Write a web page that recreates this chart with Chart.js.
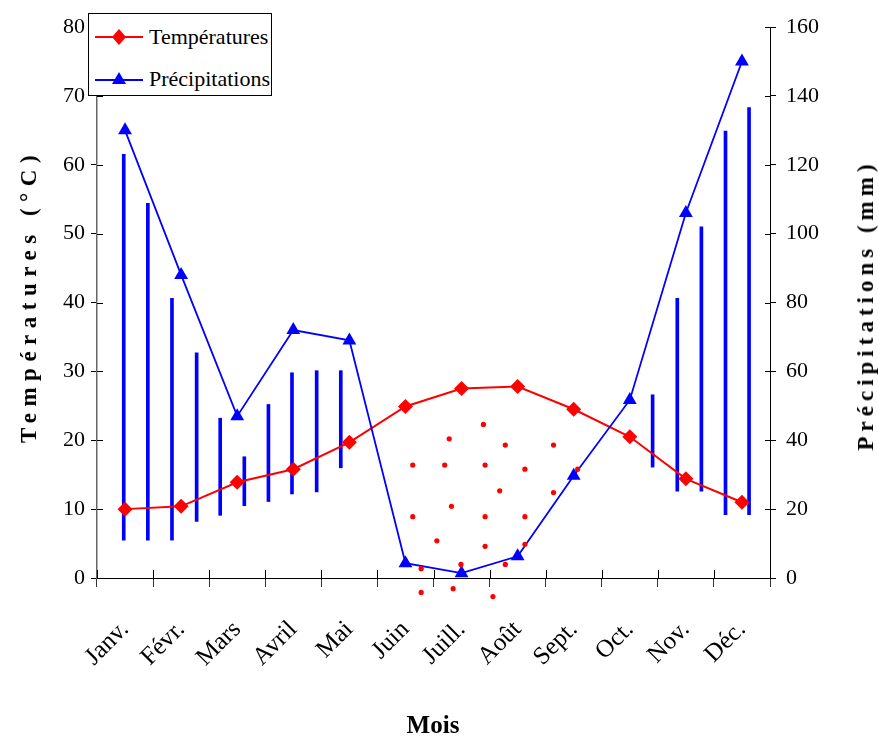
<!DOCTYPE html>
<html>
<head>
<meta charset="utf-8">
<script src="https://cdn.jsdelivr.net/npm/chart.js@4.4.0/dist/chart.umd.min.js"></script>
<style>
  body { margin: 0; background: #fff; }
  #wrap { position: relative; width: 878px; height: 740px; font-family: "Liberation Serif", "Times New Roman", serif; }
  #chart { position: absolute; left: 0; top: 0; }
  .title { position: absolute; font-weight: bold; white-space: nowrap; color: #000; }
  .vtitle { transform: translate(-50%, -50%) rotate(-90deg); font-size: 23px; }
  #legend { position: absolute; left: 88px; top: 13px; width: 182px; height: 81px; background: #fff; border: 1px solid #000; }
  .lrow { position: absolute; left: 6px; height: 24px; display: flex; align-items: center; font-size: 22px; color: #000; }
  .lrow svg { margin-right: 6px; }
</style>
</head>
<body>
<div id="wrap">
  <canvas id="chart" width="878" height="740"></canvas>
  <div id="legend">
    <div class="lrow" style="top:11px">
      <svg width="48" height="18"><line x1="0" y1="9" x2="48" y2="9" stroke="#ff0000" stroke-width="2"/><polygon points="24,1 31,9 24,17 17,9" fill="#ff0000"/></svg>
      <span>Températures</span>
    </div>
    <div class="lrow" style="top:53px">
      <svg width="48" height="18"><line x1="0" y1="10" x2="48" y2="10" stroke="#0000ff" stroke-width="2"/><polygon points="24,2 31,14 17,14" fill="#0000ff"/></svg>
      <span>Précipitations</span>
    </div>
  </div>
  <div class="title vtitle" style="left:29px; top:296px; letter-spacing:6.5px;">Températures (°C)</div>
  <div class="title vtitle" style="left:866px; top:305px; letter-spacing:5px;">Précipitations (mm)</div>
  <div class="title" style="left:433px; top:712px; transform: translateX(-50%); font-size:25px; line-height:1;">Mois</div>
</div>
<script>
// Données du diagramme ombrothermique
const mois = ['Janv.', 'Févr.', 'Mars', 'Avril', 'Mai', 'Juin', 'Juill.', 'Août', 'Sept.', 'Oct.', 'Nov.', 'Déc.'];
const temperatures = [10.0, 10.4, 13.9, 15.8, 19.7, 24.9, 27.5, 27.8, 24.5, 20.5, 14.4, 11.0];
const precipitations = [130, 88, 47, 72, 69, 4.3, 1.4, 6.3, 29.7, 51.7, 106, 150];

// Hachures de la période humide (position en mois, bas et haut en °C)
const hachuresX = [-0.05, 0.38, 0.81, 1.25, 1.67, 2.10, 2.53, 2.95, 3.39, 3.82, 9.38, 9.82, 10.25, 10.68, 11.10];
const hachuresBas = [5.5, 5.5, 5.5, 8.2, 9.1, 10.5, 11.1, 12.2, 12.5, 16.0, 16.1, 12.6, 12.6, 9.2, 9.2];
const hachuresHaut = [61.5, 54.4, 40.6, 32.7, 23.2, 17.6, 25.2, 29.8, 30.1, 30.1, 26.6, 40.6, 51.0, 64.9, 68.3];

// Pointillés de la période sèche
const pointsX = [6.39, 5.78, 6.78, 7.64, 5.13, 5.70, 6.42, 7.13, 8.07, 6.68, 7.64, 5.82, 5.13, 6.42, 7.13, 5.56, 6.42, 7.13, 5.99, 6.78, 5.28, 5.28, 5.85, 6.56];
const pointsY = [22.3, 20.2, 19.3, 19.3, 16.4, 16.4, 16.4, 15.8, 15.8, 12.65, 12.4, 10.4, 8.9, 8.9, 8.9, 5.4, 4.6, 4.9, 1.97, 1.97, 1.35, -2.1, -1.55, -2.7];

const serif = "'Liberation Serif', 'Times New Roman', serif";
const axisFont = { family: serif, size: 22 };

// petits traits de graduation à l'intérieur des axes
const innerTicks = {
  id: 'innerTicks',
  afterDraw(chart) {
    const { ctx, chartArea } = chart;
    const sx = chart.scales.xl, sy = chart.scales.y, sy2 = chart.scales.y2;
    ctx.save();
    ctx.lineWidth = 1;
    ctx.strokeStyle = '#000';
    ctx.beginPath();
    sy.ticks.forEach(t => {
      const p = Math.round(sy.getPixelForValue(t.value)) + 0.5;
      ctx.moveTo(chartArea.left, p); ctx.lineTo(chartArea.left + 6, p);
    });
    sy2.ticks.forEach(t => {
      const p = Math.round(sy2.getPixelForValue(t.value)) + 0.5;
      ctx.moveTo(chartArea.right - 5, p); ctx.lineTo(chartArea.right, p);
    });
    for (let i = 0; i <= mois.length; i++) {
      const p = Math.round(sx.getPixelForValue(i - 0.5)) + 0.5;
      ctx.moveTo(p, chartArea.bottom); ctx.lineTo(p, chartArea.bottom - 8);
    }
    ctx.stroke();
    ctx.restore();
  }
};

// points rouges (certains passent sous l'axe, donc hors de la zone du graphique)
const pointsSecs = {
  id: 'pointsSecs',
  afterDatasetsDraw(chart) {
    const { ctx } = chart;
    const sx = chart.scales.xl, sy = chart.scales.y;
    ctx.save();
    ctx.fillStyle = '#ff0000';
    pointsX.forEach((x, i) => {
      ctx.beginPath();
      ctx.arc(sx.getPixelForValue(x), sy.getPixelForValue(pointsY[i]), 2.6, 0, Math.PI * 2);
      ctx.fill();
    });
    ctx.restore();
  }
};

new Chart(document.getElementById('chart'), {
  type: 'line',
  data: {
    labels: mois,
    datasets: [
      {
        label: 'Températures',
        data: temperatures,
        yAxisID: 'y',
        borderColor: '#ff0000',
        backgroundColor: '#ff0000',
        borderWidth: 2,
        pointStyle: 'rectRot',
        pointRadius: 7.5,
        pointBorderWidth: 0,
        order: 1
      },
      {
        label: 'Précipitations',
        data: precipitations,
        yAxisID: 'y2',
        borderColor: '#0000ff',
        backgroundColor: '#0000ff',
        borderWidth: 1.8,
        pointStyle: 'triangle',
        pointRadius: 8,
        pointBorderWidth: 0,
        order: 0
      },
      {
        type: 'bar',
        label: 'hachures',
        data: hachuresX.map((x, i) => ({ x: x, y: [hachuresBas[i], hachuresHaut[i]] })),
        xAxisID: 'xl',
        yAxisID: 'y',
        backgroundColor: '#0000ff',
        barThickness: 3,
        borderWidth: 0,
        order: 3
      }
    ]
  },
  options: {
    responsive: false,
    animation: false,
    layout: { padding: { top: 27, left: 0, right: 0, bottom: 0 } },
    plugins: {
      legend: { display: false },
      tooltip: { enabled: false }
    },
    scales: {
      x: {
        type: 'category',
        offset: true,
        grid: { offset: true, drawOnChartArea: false, tickLength: 9, color: '#333', tickWidth: 1 },
        border: { color: '#000', width: 1 },
        ticks: { color: '#000', font: { family: serif, size: 25 }, maxRotation: 45, minRotation: 45, padding: 28 },
        afterFit: s => { s.height = 162; }
      },
      xl: {
        type: 'linear',
        display: false,
        offset: false,
        min: -0.5,
        max: 11.5
      },
      y: {
        position: 'left',
        min: 0,
        max: 80,
        ticks: { stepSize: 10, color: '#000', font: axisFont, padding: 6 },
        grid: { drawOnChartArea: false, tickLength: 6, color: '#000' },
        border: { color: '#666', width: 1.5 },
        afterFit: s => { s.width = 97; }
      },
      y2: {
        position: 'right',
        min: 0,
        max: 160,
        ticks: { stepSize: 20, color: '#000', font: axisFont, padding: 10 },
        grid: { drawOnChartArea: false, tickLength: 6, color: '#000' },
        border: { color: '#000', width: 1 },
        afterFit: s => { s.width = 108; }
      }
    }
  },
  plugins: [innerTicks, pointsSecs]
});
</script>
</body>
</html>
